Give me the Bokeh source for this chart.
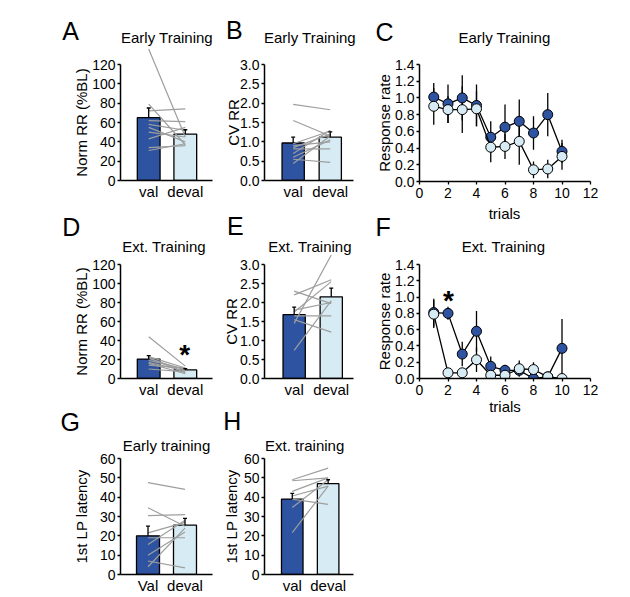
import numpy as np
from bokeh.plotting import figure
from bokeh.layouts import row, column
from bokeh.models import Range1d, FixedTicker, Label, PrintfTickFormatter
from bokeh.embed import file_html
from bokeh.resources import INLINE

# ---------------- data ----------------
groups = ["val", "deval"]
groups_g = ["Val", "deval"]
trials = [1, 2, 3, 4, 5, 6, 7, 8, 9, 10]
trial_ticks = [0, 2, 4, 6, 8, 10, 12]

# A: Norm RR, early training
A_means = [65, 48]
A_sem = [10, 4.5]
A_val = [136, 79, 72, 62, 58, 55, 50, 43, 34, 31]
A_deval = [45, 37, 74, 61, 52, 40, 45, 55, 36, 38]

# B: CV RR, early training
B_means = [0.97, 1.12]
B_sem = [0.15, 0.14]
B_val = [1.97, 1.55, 0.95, 0.82, 0.55, 0.70, 0.44, 0.85, 0.90, 0.60]
B_deval = [1.83, 1.15, 1.28, 0.82, 0.47, 1.30, 1.15, 1.20, 1.00, 1.05]

# C: response rate, early training
C_val = [1.01, 0.93, 1.00, 0.91, 0.53, 0.65, 0.72, 0.58, 0.80, 0.36]
C_val_sem = [0.17, 0.23, 0.27, 0.25, 0.19, 0.27, 0.26, 0.20, 0.26, 0.14]
C_deval = [0.90, 0.86, 0.86, 0.87, 0.41, 0.42, 0.48, 0.14, 0.15, 0.30]
C_deval_sem = [0.22, 0.16, 0.28, 0.21, 0.18, 0.15, 0.28, 0.10, 0.11, 0.16]

# D: Norm RR, ext. training
D_means = [20.5, 9]
D_sem = [3.5, 1.5]
D_val = [44, 23, 21, 19, 17, 22, 16, 14, 10]
D_deval = [13, 11, 9, 10, 8, 6, 5, 11, 7]

# E: CV RR, ext. training
E_means = [1.68, 2.15]
E_sem = [0.20, 0.23]
E_val = [0.74, 1.45, 1.55, 1.65, 1.75, 1.80, 2.20, 2.30]
E_deval = [2.05, 3.25, 1.22, 1.65, 2.55, 2.00, 2.60, 1.97]

# F: response rate, ext. training
F_val = [0.81, 0.80, 0.30, 0.58, 0.15, 0.10, 0.10, 0.00, 0.02, 0.37]
F_val_sem = [0.17, 0.08, 0.15, 0.25, 0.12, 0.07, 0.06, 0.00, 0.02, 0.36]
F_deval = [0.79, 0.07, 0.07, 0.23, 0.04, 0.04, 0.12, 0.11, 0.02, 0.00]
F_deval_sem = [0.17, 0.02, 0.02, 0.15, 0.03, 0.03, 0.10, 0.09, 0.01, 0.00]

# G: 1st LP latency, early training
G_means = [20, 25.5]
G_sem = [5, 3.5]
G_val = [47.5, 34.5, 30.5, 21.5, 19, 15.5, 10, 7, 4]
G_deval = [44, 25, 31, 27, 19, 28, 22, 3.4, 24]

# H: 1st LP latency, ext. training
H_means = [39, 47]
H_sem = [3, 2]
H_val = [49, 48.5, 43, 40.6, 39, 34.7, 21.7]
H_deval = [55, 50, 50, 45.7, 36.3, 49, 45.7]

# ---------------- style ----------------
FONT = "Liberation Sans"
DARK = "#2E53A1"
LIGHT = "#D6EBF3"
GRAY = "#9e9e9e"


def make_fig(fig_box, frame, xr, yr):
    fx, fy, fw, fh = fig_box
    l, t, r, b = frame
    p = figure(width=fw, height=fh, x_range=Range1d(*xr), y_range=Range1d(*yr),
               output_backend="svg", toolbar_location=None, tools="")
    p.min_border = 0
    p.min_border_left = l - fx
    p.min_border_right = fx + fw - r
    p.min_border_top = t - fy
    p.min_border_bottom = fy + fh - b
    p.outline_line_color = None
    p.grid.visible = False
    p.background_fill_color = "white"
    p.border_fill_color = "white"

    def to_data(px, py):
        x = xr[0] + (px - l) / (r - l) * (xr[1] - xr[0])
        y = yr[0] + (b - py) / (b - t) * (yr[1] - yr[0])
        return x, y
    return p, to_data


def style_axis(ax, ticks, size=14, tick_out=3, standoff=2):
    ax.ticker = FixedTicker(ticks=ticks)
    ax.axis_line_color = "black"
    ax.axis_line_width = 1.5
    ax.major_tick_line_color = "black" if tick_out > 0 else None
    ax.major_tick_line_width = 1.3
    ax.major_tick_in = 0
    ax.major_tick_out = tick_out
    ax.minor_tick_line_color = None
    ax.major_label_text_font = FONT
    ax.major_label_text_font_size = f"{size}px"
    ax.major_label_text_color = "black"
    ax.major_label_standoff = standoff


def add_text(p, to_data, px, py, text, size, side=None, align="left",
             baseline="middle", angle=0.0, bold=False):
    x, y = to_data(px, py)
    lab = Label(x=x, y=y, text=text, text_font=FONT, text_font_size=f"{size}px",
                text_align=align, text_baseline=baseline, angle=angle,
                text_color="black", text_font_style="bold" if bold else "normal")
    if side is None:
        p.add_layout(lab)
    else:
        p.add_layout(lab, side)


def bar_panel(fig_box, frame_nom, ext_top, centers, bw_px, ytop, ystep, fmt,
              cats, means, sems, val, deval, letter, letter_pos, letter_side,
              title, title_pos, ylabel, ylabel_x):
    l, t_nom, r, b = frame_nom
    ppu_y = (b - t_nom) / ytop
    t = t_nom - ext_top
    yr = (0, (b - t) / ppu_y)
    vc, dc = centers
    ppu_x = dc - vc
    xr = (1 - (vc - l) / ppu_x, 2 + (r - dc) / ppu_x)
    p, to_data = make_fig(fig_box, (l, t, r, b), xr, yr)

    xs = [i + 1 for i in range(len(cats))]
    p.vbar(x=xs, top=means, bottom=0, width=bw_px / ppu_x, fill_color=[DARK, LIGHT],
           line_color="black", line_width=1.3)
    p.multi_line(xs=[xs for _ in val], ys=[[v, d] for v, d in zip(val, deval)],
                 line_color=GRAY, line_width=1.2)
    hi = [m + s for m, s in zip(means, sems)]
    p.segment(x0=xs, y0=means, x1=xs, y1=hi, line_color="black", line_width=1.3)
    cap = 2.0 / ppu_x
    p.segment(x0=[x - cap for x in xs], y0=hi, x1=[x + cap for x in xs], y1=hi,
              line_color="black", line_width=1.3)

    yt = [float(v) for v in np.round(np.arange(0, ytop + ystep / 2, ystep), 3)]
    style_axis(p.yaxis[0], yt, size=14, tick_out=3, standoff=2)
    p.yaxis.bounds = (0, ytop)
    if fmt:
        p.yaxis.formatter = PrintfTickFormatter(format=fmt)
    style_axis(p.xaxis[0], xs, size=15, tick_out=0, standoff=2)
    p.xaxis.major_label_overrides = {x: c for x, c in zip(xs, cats)}

    add_text(p, to_data, ylabel_x, (t_nom + b) / 2, ylabel, 15, side="left",
             align="center", angle=np.pi / 2)
    add_text(p, to_data, title_pos[0], title_pos[1], title, 15, side="above", align="center")
    add_text(p, to_data, letter_pos[0], letter_pos[1], letter, 25, side=letter_side)
    return p, to_data


def line_panel(fig_box, frame, val, val_sem, deval, deval_sem,
               letter, letter_pos, letter_side, title, title_pos, ylabel_x,
               own_xlabel=True):
    l, t, r, b = frame
    ytop = 1.4
    yr = (0, ytop)
    xr = (0, 12)
    p, to_data = make_fig(fig_box, frame, xr, yr)

    for ys, ss in ((val, val_sem), (deval, deval_sem)):
        p.segment(x0=trials, y0=[y - s for y, s in zip(ys, ss)], x1=trials,
                  y1=[y + s for y, s in zip(ys, ss)], line_color="black", line_width=1.3)
    p.line(trials, val, line_color="black", line_width=1.3)
    p.scatter(trials, val, size=10, marker="circle", fill_color=DARK,
              line_color="black", line_width=1)
    p.line(trials, deval, line_color="black", line_width=1.3)
    p.scatter(trials, deval, size=10, marker="circle", fill_color=LIGHT,
              line_color="black", line_width=1)

    yt = [float(v) for v in np.round(np.arange(0, ytop + 0.1, 0.2), 2)]
    style_axis(p.yaxis[0], yt, size=14, tick_out=3, standoff=2)
    p.yaxis.formatter = PrintfTickFormatter(format="%.1f")
    style_axis(p.xaxis[0], trial_ticks, size=14, tick_out=3, standoff=3)
    if own_xlabel:
        p.xaxis.axis_label = "trials"
        p.xaxis.axis_label_text_font = FONT
        p.xaxis.axis_label_text_font_size = "15px"
        p.xaxis.axis_label_text_font_style = "normal"
        p.xaxis.axis_label_text_color = "black"
        p.xaxis.axis_label_standoff = 0

    add_text(p, to_data, ylabel_x, (t + b) / 2, "Response rate", 15, side="left",
             align="center", angle=np.pi / 2)
    add_text(p, to_data, title_pos[0], title_pos[1], title, 15, side="above", align="center")
    add_text(p, to_data, letter_pos[0], letter_pos[1], letter, 25, side=letter_side)
    return p, to_data


# ---------------- panels (page pixel geometry, page origin at 0,0) ----------------
pA, _ = bar_panel((0, 0, 215, 209), (119, 64, 212, 180), 17, (147.5, 184.5), 23, 120, 20, None,
                  groups, A_means, A_sem, A_val, A_deval, "A", (60, 30), "left",
                  "Early Training", (166, 37), "Norm RR (%BL)", 80)
pB, _ = bar_panel((215, 0, 157, 209), (263, 64, 353, 180), 0, (292, 329.5), 22.5, 3.0, 0.5, "%.1f",
                  groups, B_means, B_sem, B_val, B_deval, "B", (224, 29), "above",
                  "Early Training", (309, 37), "CV RR", 232)
pC, _ = line_panel((372, 0, 256, 204), (419, 64, 590, 181), C_val, C_val_sem, C_deval, C_deval_sem,
                   "C", (375, 31), "above", "Early Training", (504, 37), 384, own_xlabel=False)

pD, toD = bar_panel((0, 209, 215, 194), (119, 264, 212, 378), 0, (147.5, 184.5), 23, 120, 20, None,
                    groups, D_means, D_sem, D_val, D_deval, "D", (60, 226), "left",
                    "Ext. Training", (163, 246), "Norm RR (%BL)", 80)
add_text(pD, toD, 184, 354, "*", 28, align="center", baseline="alphabetic", bold=True)
pE, _ = bar_panel((215, 209, 157, 194), (263, 264, 353, 378), 11, (293, 330.5), 22.5, 3.0, 0.5, "%.1f",
                  groups, E_means, E_sem, E_val, E_deval, "E", (225, 225), "right",
                  "Ext. Training", (309, 246), "CV RR", 230)
pF, toF = line_panel((372, 204, 256, 220), (419, 264, 590, 378), F_val, F_val_sem, F_deval, F_deval_sem,
                     "F", (375, 226), "above", "Ext. Training", (503, 246), 384)
add_text(pF, toF, 448, 300, "*", 28, align="center", baseline="alphabetic", bold=True)
# x-axis title of panel C, drawn just above panel F's area
add_text(pF, toF, 504, 213, "trials", 15, side="right", align="center")

pG, _ = bar_panel((0, 403, 215, 193), (120, 458, 212, 575), 0, (147.5, 184.5), 23, 60, 10, None,
                  groups_g, G_means, G_sem, G_val, G_deval, "G", (60, 421), "left",
                  "Early training", (166, 445), "1st LP latency", 81)
pH, _ = bar_panel((215, 403, 157, 193), (264, 458, 357, 575), 0, (293, 330.5), 22.5, 60, 10, None,
                  groups, H_means, H_sem, H_val, H_deval, "H", (221, 420), "above",
                  "Ext. training", (306, 445), "1st LP latency", 230)

layout = row(column(pA, pD, pG), column(pB, pE, pH), column(pC, pF))

open("out.html", "w").write(file_html(layout, INLINE, "Figure"))
